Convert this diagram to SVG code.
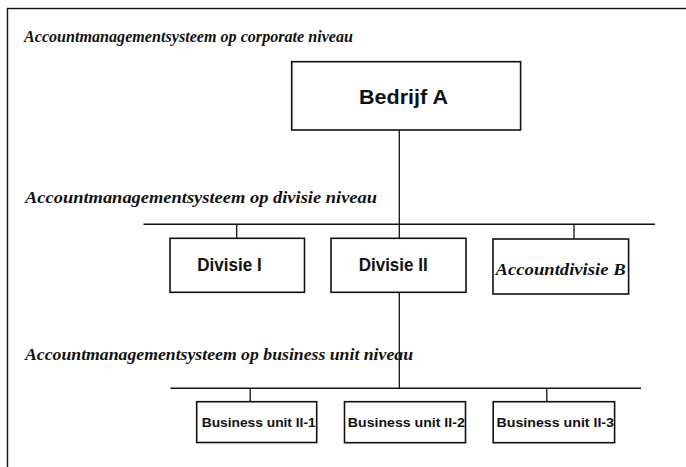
<svg xmlns="http://www.w3.org/2000/svg" width="686" height="467" viewBox="0 0 686 467">
  <style>
    .frame { fill: none; stroke: #111; stroke-width: 1.4; }
    .box { fill: #fff; stroke: #111; stroke-width: 1.6; }
    .wire { fill: none; stroke: #111; stroke-width: 1.3; }
    .rail { fill: none; stroke: #111; stroke-width: 1.6; }
    .level { font-family: "Liberation Serif", "Times New Roman", serif; font-weight: bold; font-style: italic; font-size: 16px; fill: #111; }
    .sans { font-family: "Liberation Sans", Arial, sans-serif; font-weight: bold; fill: #111; }
    .serif { font-family: "Liberation Serif", "Times New Roman", serif; font-weight: bold; font-style: italic; fill: #111; }
  </style>

  <rect width="686" height="467" fill="#fff"/>
  <!-- outer frame (runs off the right and bottom edges) -->
  <rect class="frame" x="7.5" y="8.5" width="700" height="480"/>

  <!-- level headings -->
  <g id="level-labels">
    <text class="level" x="24" y="41.5" textLength="329" lengthAdjust="spacingAndGlyphs">Accountmanagementsysteem op corporate niveau</text>
    <text class="level" x="25" y="203" textLength="352" lengthAdjust="spacingAndGlyphs">Accountmanagementsysteem op divisie niveau</text>
    <text class="level" x="25" y="360" textLength="388" lengthAdjust="spacingAndGlyphs">Accountmanagementsysteem op business unit niveau</text>
  </g>

  <!-- connectors -->
  <g id="connectors">
    <!-- trunk: Bedrijf A to Divisie II, and Divisie II to business unit rail -->
    <line class="wire" x1="399.3" y1="130" x2="399.3" y2="238.3"/>
    <line class="wire" x1="399.3" y1="292.3" x2="399.3" y2="388.3"/>
    <!-- division rail and drops -->
    <line class="rail" x1="143.5" y1="224.3" x2="655" y2="224.3"/>
    <line class="wire" x1="236.7" y1="224.3" x2="236.7" y2="238.3"/>
    <line class="wire" x1="574" y1="224.3" x2="574" y2="239"/>
    <!-- business unit rail and drops -->
    <line class="rail" x1="170.5" y1="388.3" x2="641" y2="388.3"/>
    <line class="wire" x1="250.2" y1="388.3" x2="250.2" y2="401.7"/>
    <line class="wire" x1="546.8" y1="388.3" x2="546.8" y2="401.7"/>
  </g>

  <g id="bedrijf-a">
    <rect class="box" x="291.7" y="61.7" width="228.9" height="68.3"/>
    <text class="sans" x="359" y="103.5" font-size="20" textLength="89" lengthAdjust="spacingAndGlyphs">Bedrijf A</text>
  </g>

  <g id="divisie-1">
    <rect class="box" x="170" y="238.3" width="134.5" height="54"/>
    <text class="sans" x="197.3" y="271" font-size="18" textLength="64.4" lengthAdjust="spacingAndGlyphs">Divisie I</text>
  </g>

  <g id="divisie-2">
    <rect class="box" x="331" y="238.3" width="135" height="54"/>
    <text class="sans" x="358.7" y="271" font-size="18" textLength="69" lengthAdjust="spacingAndGlyphs">Divisie II</text>
  </g>

  <g id="accountdivisie-b">
    <rect class="box" x="493" y="239" width="135.6" height="55"/>
    <text class="serif" x="495.6" y="275" font-size="17" textLength="130" lengthAdjust="spacingAndGlyphs">Accountdivisie B</text>
  </g>

  <g id="business-unit-1">
    <rect class="box" x="196.7" y="401.7" width="120" height="40.8"/>
    <text class="sans" x="201.7" y="426.7" font-size="12.5" textLength="114" lengthAdjust="spacingAndGlyphs">Business unit II-1</text>
  </g>

  <g id="business-unit-2">
    <rect class="box" x="344.5" y="401.7" width="121" height="41"/>
    <text class="sans" x="347.8" y="426.7" font-size="12.5" textLength="117" lengthAdjust="spacingAndGlyphs">Business unit II-2</text>
  </g>

  <g id="business-unit-3">
    <rect class="box" x="493.2" y="401.7" width="121.4" height="41"/>
    <text class="sans" x="496.5" y="426.7" font-size="12.5" textLength="117.5" lengthAdjust="spacingAndGlyphs">Business unit II-3</text>
  </g>
</svg>
